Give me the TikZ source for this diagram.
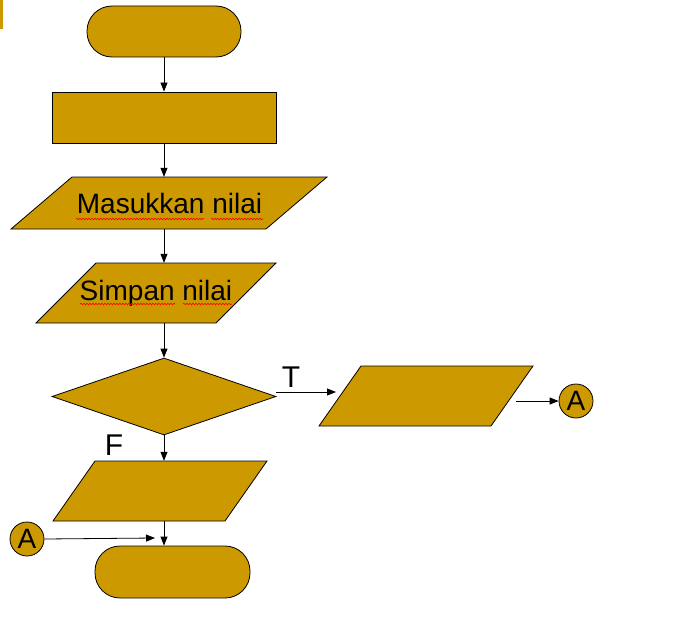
\documentclass[tikz,border=0pt]{standalone}
\usepackage{fontspec}
\setmainfont{Liberation Sans}
\usetikzlibrary{arrows.meta,shapes.geometric,decorations.pathmorphing}
\definecolor{fc}{RGB}{204,153,0}
\tikzset{
  fl/.style={draw=black,fill=fc,line width=0.8pt},
  term/.style={fl,rectangle,rounded corners=25pt,minimum width=154pt,minimum height=51pt,inner sep=0pt},
  procbox/.style={fl,rectangle,minimum width=224pt,minimum height=51pt,inner sep=0pt},
  txt/.style={font=\fontsize{28}{30}\selectfont,inner sep=0pt},
  lbl/.style={font=\fontsize{30}{32}\selectfont,inner sep=0pt},
  conn/.style={fl,circle,minimum size=34pt,inner sep=0pt,font=\fontsize{28}{30}\selectfont},
  arr/.style={draw=black,line width=0.8pt,-{Triangle[length=9pt,width=7pt]}},
  spell/.style={draw=red,line width=0.6pt,decorate,decoration={snake,amplitude=0.8pt,segment length=3pt}}
}
\begin{document}
\begin{tikzpicture}[x=1pt,y=-1pt]
\useasboundingbox (0,0) rectangle (680,634);
\fill[fc] (0,0) rectangle (3,29);
% start
\node[term] (start) at (164,31.5) {};
% process
\node[procbox] (proc) at (164,117.5) {};
% input parallelogram
\draw[fl] (72,177) -- (327,177) -- (266,229) -- (11,229) -- cycle;
\node[txt,minimum height=52pt] (in1) at (169.5,203) {Masukkan nilai};
\draw[spell] (76,219) -- (204,219);
\draw[spell] (211,219) -- (263,219);
% store parallelogram
\draw[fl] (96,263) -- (276,263) -- (216,323) -- (36,323) -- cycle;
\node[txt,minimum height=60pt] (in2) at (156,293) {Simpan nilai};
\draw[spell] (80,304) -- (175,304);
\draw[spell] (183,304) -- (232,304);
% decision
\node[fl,diamond,minimum width=224pt,minimum height=77pt,inner sep=0pt] (dec) at (164,396.5) {};
% false output
\draw[fl] (95,461) -- (267,461) -- (225,521) -- (53,521) -- cycle;
\node[minimum height=60pt,inner sep=0pt] (out1) at (160,491) {};
% true output
\draw[fl] (361,366) -- (533,366) -- (491,426) -- (319,426) -- cycle;
\node[minimum height=60pt,inner sep=0pt] (out2) at (426,396) {};
% end
\node[term,minimum width=155pt,minimum height=52pt] (stop) at (172.5,572) {};
% connectors
\node[conn] (A1) at (576,401) {A};
\node[conn] (A2) at (27,539) {A};
\coordinate (tIn) at (336,392);
\coordinate (tOut) at (516,401);
\coordinate (aIn) at (155,538);
% labels
\node[lbl] (T) at (291,377) {T};
\node[lbl] (F) at (114,445) {F};
% arrows
\draw[arr] (start.south) -- (proc.north);
\draw[arr] (proc.south) -- (proc.south |- in1.north);
\draw[arr] (proc.south |- in1.south) -- (proc.south |- in2.north);
\draw[arr] (proc.south |- in2.south) -- (dec.north);
\draw[arr] (dec.south) -- (dec.south |- out1.north);
\draw[arr] (dec.south |- out1.south) -- (dec.south |- stop.north);
\draw[arr] (dec.east |- tIn) -- (tIn);
\draw[arr] (tOut) -- (A1.west);
\draw[arr] (A2.east) -- (aIn);
\end{tikzpicture}
\end{document}
